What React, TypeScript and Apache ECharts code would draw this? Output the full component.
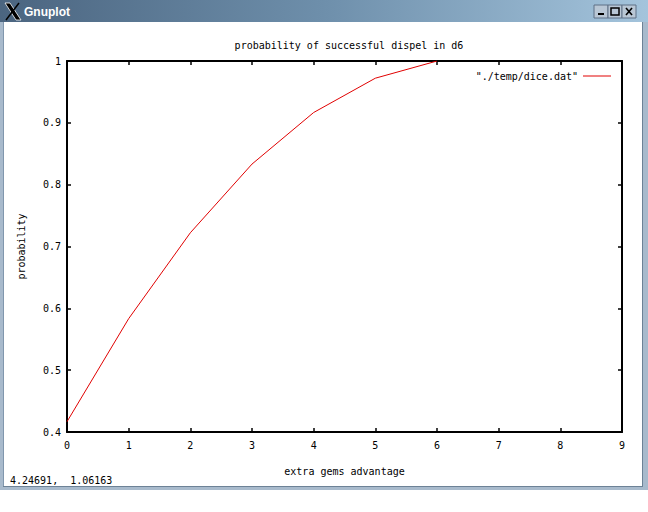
import React, { useEffect, useRef } from "react";
import * as echarts from "echarts";

const xValues = [0, 1, 2, 3, 4, 5, 6];
const probValues = [0.4167, 0.5833, 0.7222, 0.8333, 0.9167, 0.9722, 1.0];
const seriesName = '"./temp/dice.dat"';
const chartTitle = "probability of successful dispel in d6";
const xName = "extra gems advantage";
const yName = "probability";
const statusText = "4.24691,  1.06163";
const windowTitle = "Gnuplot";

const mono = "DejaVu Sans Mono";
const txt = { fontFamily: mono, fontSize: 10, color: "#000" };

export default function App() {
  const ref = useRef<HTMLDivElement>(null);
  useEffect(() => {
    document.body.style.margin = "0";
    const chart = echarts.init(ref.current!, undefined, { renderer: "svg" });
    const axisCommon = {
      axisLine: { show: true, onZero: false, lineStyle: { color: "#000", width: 2 } },
      axisTick: { show: true, inside: true, length: 4, lineStyle: { color: "#000", width: 1.5 } },
      splitLine: { show: false },
    };
    const option: any = {
      animation: false,
      backgroundColor: "#ffffff",
      title: {
        text: chartTitle,
        left: 344,
        textAlign: "center",
        top: 35,
        textStyle: { ...txt, fontWeight: "normal" },
      },
      legend: {
        data: [seriesName],
        right: 32,
        top: 66,
        align: "right",
        icon: "rect",
        itemWidth: 28,
        itemHeight: 1,
        textStyle: txt,
      },
      grid: { left: 67, right: 26, top: 61, bottom: 80 },
      xAxis: [
        {
          type: "value",
          min: 0,
          max: 9,
          interval: 1,
          position: "bottom",
          name: xName,
          nameLocation: "middle",
          nameGap: 34,
          nameTextStyle: txt,
          axisLabel: { ...txt, margin: 8 },
          ...axisCommon,
        },
        {
          type: "value",
          min: 0,
          max: 9,
          interval: 1,
          position: "top",
          axisLabel: { show: false },
          ...axisCommon,
        },
      ],
      yAxis: [
        {
          type: "value",
          min: 0.4,
          max: 1,
          interval: 0.1,
          position: "left",
          name: yName,
          nameLocation: "middle",
          nameGap: 41,
          nameRotate: 90,
          nameTextStyle: txt,
          axisLabel: { ...txt, margin: 6 },
          ...axisCommon,
        },
        {
          type: "value",
          min: 0.4,
          max: 1,
          interval: 0.1,
          position: "right",
          axisLabel: { show: false },
          ...axisCommon,
        },
      ],
      series: [
        {
          name: seriesName,
          type: "line",
          data: xValues.map((x, i) => [x, probValues[i]]),
          showSymbol: false,
          symbol: "none",
          lineStyle: { color: "#e00000", width: 1 },
          itemStyle: { color: "#e00000" },
        },
      ],
      graphic: [
        {
          type: "rect",
          shape: { x: 0, y: 0, width: 648, height: 22 },
          style: {
            fill: new echarts.graphic.LinearGradient(0, 0, 1, 0, [
              { offset: 0, color: "#4b6580" },
              { offset: 0.5, color: "#6e8fab" },
              { offset: 1, color: "#a4c4dc" },
            ]),
          },
          silent: true,
        },
        {
          type: "polygon",
          shape: { points: [[5, 3], [10, 3], [21, 20], [16, 20]] },
          style: { fill: "#000", stroke: "#fff", lineWidth: 0.8 },
        },
        {
          type: "line",
          shape: { x1: 19, y1: 3, x2: 6, y2: 20 },
          style: { stroke: "#000", lineWidth: 1.5 },
        },
        {
          type: "text",
          x: 24,
          y: 12,
          style: {
            text: windowTitle,
            fill: "#fff",
            font: "bold 12px 'Liberation Sans'",
            textVerticalAlign: "middle",
          },
        },
        ...[594, 608, 622].map((bx, i) => ({
          type: "group",
          children: [
            {
              type: "rect",
              shape: { x: bx, y: 5, width: 14, height: 13 },
              style: { fill: "#b9c7d5", stroke: "#5e7186", lineWidth: 1 },
            },
            i === 0
              ? { type: "rect", shape: { x: bx + 4, y: 13, width: 6, height: 2 }, style: { fill: "#000" } }
              : i === 1
              ? { type: "rect", shape: { x: bx + 3, y: 8, width: 8, height: 7 }, style: { fill: "none", stroke: "#000", lineWidth: 1.5 } }
              : {
                  type: "group",
                  children: [
                    { type: "line", shape: { x1: bx + 4, y1: 8, x2: bx + 10, y2: 15 }, style: { stroke: "#000", lineWidth: 1.6 } },
                    { type: "line", shape: { x1: bx + 10, y1: 8, x2: bx + 4, y2: 15 }, style: { stroke: "#000", lineWidth: 1.6 } },
                  ],
                },
          ],
        })),
        {
          type: "rect",
          shape: { x: 0, y: 22, width: 3, height: 468 },
          style: { fill: "#a8bacc" },
        },
        {
          type: "rect",
          shape: { x: 3, y: 22, width: 1, height: 466 },
          style: { fill: "#8197ad" },
        },
        {
          type: "rect",
          shape: { x: 643, y: 22, width: 5, height: 468 },
          style: { fill: "#a8bacc" },
        },
        {
          type: "rect",
          shape: { x: 642, y: 22, width: 1, height: 466 },
          style: { fill: "#6d8296" },
        },
        {
          type: "rect",
          shape: { x: 0, y: 487, width: 648, height: 3 },
          style: { fill: "#a8bacc" },
        },
        {
          type: "rect",
          shape: { x: 3, y: 486, width: 640, height: 1 },
          style: { fill: "#6d8296" },
        },
        {
          type: "text",
          x: 10,
          y: 480,
          style: {
            text: statusText,
            fill: "#000",
            font: `10px '${mono}'`,
            textVerticalAlign: "middle",
          },
        },
      ],
    };
    chart.setOption(option);
    return () => chart.dispose();
  }, []);
  return (
    <div
      ref={ref}
      style={{ width: 648, height: 512, position: "absolute", left: 0, top: 0 }}
    />
  );
}
